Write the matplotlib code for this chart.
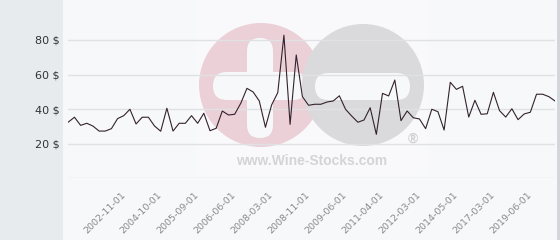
import matplotlib
matplotlib.use("Agg")
import matplotlib.pyplot as plt
from matplotlib.patches import Rectangle, Circle, FancyBboxPatch

prices = [
    32.5, 35.3, 30.6, 31.8, 30.2, 27.3, 27.3, 28.7, 34.5, 36.2,
    39.9, 31.4, 35.3, 35.3, 30.2, 27.2, 40.5, 27.3, 31.8, 31.8,
    36.2, 31.8, 37.6, 27.5, 28.9, 38.9, 36.6, 37.0, 43.4, 52.0,
    49.9, 44.7, 29.5, 42.4, 49.5, 82.7, 31.2, 71.3, 47.2, 42.2,
    42.8, 42.8, 44.1, 44.7, 47.7, 39.9, 36.0, 32.4, 33.7, 40.8,
    25.4, 49.1, 47.6, 56.8, 33.3, 38.9, 35.0, 34.3, 28.7, 39.9,
    38.5, 27.9, 55.5, 51.4, 53.2, 35.4, 45.1, 37.0, 37.3, 49.7,
    39.1, 35.4, 40.2, 33.9, 37.2, 38.2, 48.6, 48.6, 47.2, 44.7,
]
tick_positions = [9, 15, 21, 27, 33, 39, 45, 51, 57, 63, 69, 75]
tick_labels = ['2002-11-01', '2004-10-01', '2005-09-01', '2006-06-01',
               '2008-03-01', '2008-11-01', '2009-06-01', '2011-04-01',
               '2012-03-01', '2014-05-01', '2017-03-01', '2019-06-01']
y_ticks = [20, 40, 60, 80]

W, H = 560, 240
fig = plt.figure(figsize=(W / 100, H / 100), dpi=100, facecolor='#f7f8fa')

# background layer in pixel coords: side panel, watermark, border
bg = fig.add_axes([0, 0, 1, 1], zorder=0)
bg.set_xlim(0, W)
bg.set_ylim(H, 0)
bg.axis('off')
bg.add_patch(Rectangle((0, 0), 63, H, color='#e7ebee', lw=0))
bg.add_patch(Rectangle((557, 0), 3, H, color='#d2d5d9', lw=0))
bg.add_patch(Rectangle((197, 0), 230, 175, color='white', alpha=0.25, lw=0))
bg.add_patch(Circle((261, 85), 62, color='#ebd0d7', lw=0))
bg.add_patch(FancyBboxPatch((247, 38), 26, 100, boxstyle='round,pad=0,rounding_size=13',
                            color='#f7f8fa', lw=0))
bg.add_patch(FancyBboxPatch((213, 72), 94, 28, boxstyle='round,pad=0,rounding_size=14',
                            color='#f7f8fa', lw=0))
bg.add_patch(Circle((363, 85), 61, color='#dadadc', lw=0))
bg.add_patch(FancyBboxPatch((315, 73), 95, 27, boxstyle='round,pad=0,rounding_size=13.5',
                            color='#f7f8fa', lw=0))
bg.text(312, 161, 'www.Wine-Stocks.com', ha='center', va='center', fontsize=10,
        fontweight='bold', family='Liberation Sans', color='#d4d4d4')
bg.text(413, 139, '®', ha='center', va='center', fontsize=10,
        fontweight='bold', family='Liberation Sans', color='#d0d0d0')

# main chart
left, right = 68.3, 555
bottom = 178.3
ax = fig.add_axes([left / W, (H - bottom) / H, (right - left) / W, bottom / H], zorder=1)
ax.set_facecolor('none')
ax.plot(range(len(prices)), prices, color='#33222e', lw=0.8)
ax.set_xlim(0, len(prices) - 1)
ax.set_ylim(0, bottom / 1.73)

ax.set_yticks([0] + y_ticks)
ax.set_yticklabels([''] + [f'{v} $' for v in y_ticks])
ax.yaxis.grid(True, color='#e0e1e5', lw=1)
ax.set_axisbelow(True)
ax.tick_params(axis='y', length=0, pad=6.5, labelsize=8, labelcolor='#333333')

ax.set_xticks(tick_positions)
ax.set_xticklabels(tick_labels, rotation=45, ha='right', va='center',
                   rotation_mode='anchor')
ax.tick_params(axis='x', length=0, pad=11, labelsize=6.8, labelcolor='#8a8a8a')

for s in ax.spines.values():
    s.set_visible(False)

fig.savefig('out.png', dpi=100, facecolor=fig.get_facecolor())
